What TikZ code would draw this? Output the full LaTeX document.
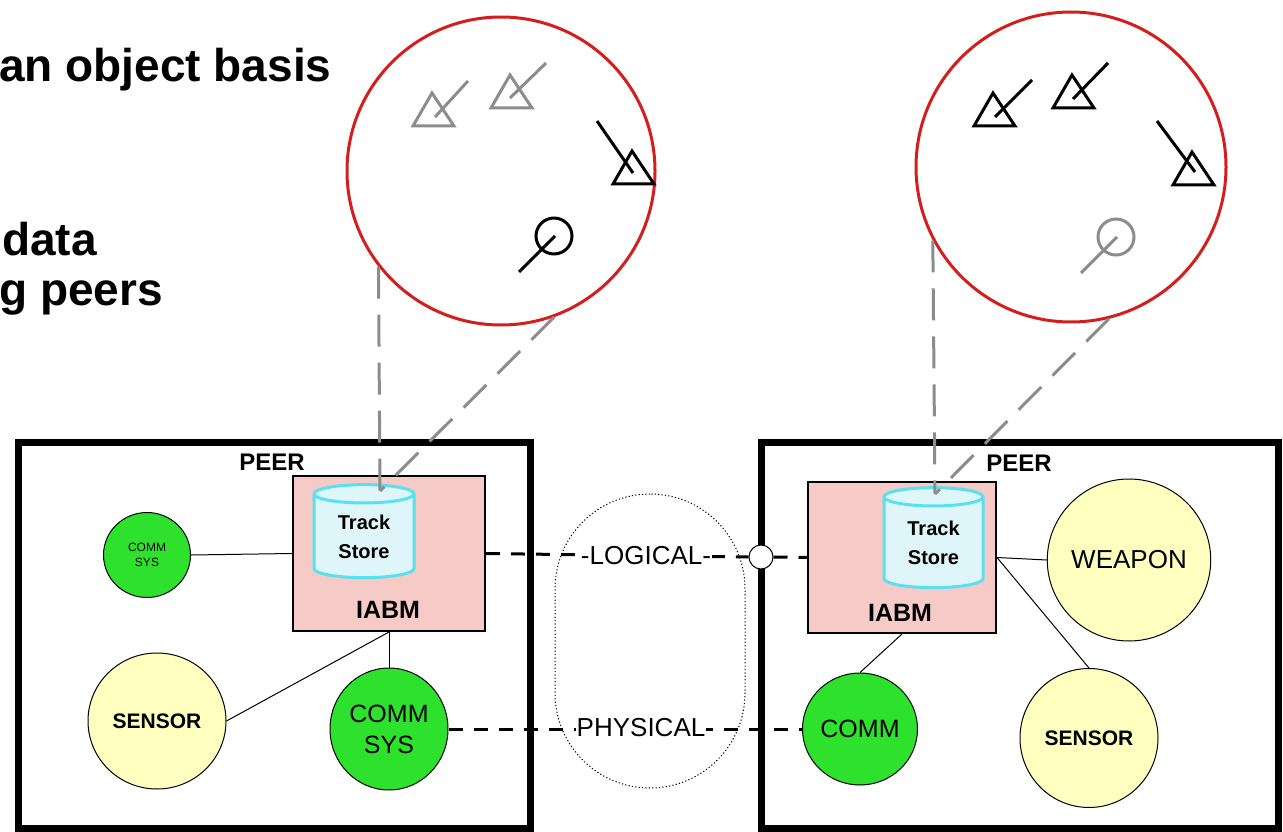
\documentclass[tikz,border=0pt]{standalone}
\usepackage{fontspec}
\setmainfont{Liberation Sans}
\usetikzlibrary{shapes.geometric}

\definecolor{viewred}{RGB}{212,30,30}
\definecolor{trackgray}{RGB}{140,140,140}
\definecolor{iabmpink}{RGB}{246,202,198}
\definecolor{storecyan}{RGB}{90,225,240}
\definecolor{storefill}{RGB}{222,246,250}
\definecolor{commgreen}{RGB}{45,225,45}
\definecolor{unityellow}{RGB}{255,255,192}

\newcommand{\pxfont}[2]{\fontsize{#1}{#2}\selectfont}

\tikzstyle{view}=[circle, draw=viewred, line width=3pt, inner sep=0pt]
\tikzstyle{peerbox}=[draw, line width=7pt, inner sep=0pt]
\tikzstyle{iabm}=[draw, fill=iabmpink, line width=2pt, inner sep=0pt]
\tikzstyle{store}=[cylinder, shape border rotate=90, aspect=0.35, draw=storecyan, fill=storefill, line width=3pt, inner sep=0pt, align=center, font=\pxfont{20}{29}\bfseries]
\tikzstyle{unit}=[ellipse, draw, line width=1pt, inner sep=0pt, align=center]
\tikzstyle{label}=[inner sep=0pt, font=\pxfont{24}{28}\bfseries]
\tikzstyle{edge}=[draw, line width=1pt, -]
\tikzstyle{link}=[draw, line width=3pt, dash pattern=on 14pt off 11pt]
\tikzstyle{sight}=[draw=trackgray, line width=3pt, dash pattern=on 32pt off 16pt]

\begin{document}
\begin{tikzpicture}[x=1pt, y=-1pt]
	\useasboundingbox (0,0) rectangle (1283,832);
	% slide text
	\node[anchor=base west, inner sep=0pt, font=\pxfont{46}{50}\bfseries] (basis) at (-1,82) {an object basis};
	\node[anchor=base west, inner sep=0pt, font=\pxfont{46}{50}\bfseries] (data) at (2,255) {data};
	\node[anchor=base west, inner sep=0pt, font=\pxfont{46}{50}\bfseries] (peers) at (-1,305) {g peers};

	% track pictures
	\node[view, minimum size=308pt] (lview) at (501,171) {};
	\node[view, minimum size=310pt] (rview) at (1071,167) {};
	\foreach \bx/\by/\ax/\ay/\ex/\ey/\c in {433/126/435/117/468/81/trackgray, 511/108/510/98/546/63/trackgray, 633/184/597/121/633/173/black, 994/126/995/117/1032/80/black, 1073/108/1073/99/1108/63/black, 1193/185/1157/121/1195/172/black}
	{
		\draw[\c, line width=3pt] (\bx-20,\by) -- (\bx+21,\by) -- (\bx-1,\by-33) -- cycle;
		\draw[\c, line width=3pt] (\ax,\ay) -- (\ex,\ey);
	}
	\foreach \cx/\cy/\c in {554/236/black, 1116/237/trackgray}
	{
		\draw[\c, line width=3pt] (\cx,\cy) circle[radius=18pt];
		\draw[\c, line width=3pt] (\cx-35,\cy+36) -- (\cx+1,\cy);
	}

	% peers
	\node[peerbox, minimum width=512pt, minimum height=386pt] (lpeer) at (274,635) {};
	\node[peerbox, minimum width=517pt, minimum height=386pt] (rpeer) at (1019.5,635) {};
	\node[label] (lpeertext) at (272,462) {PEER};
	\node[label] (rpeertext) at (1019,463) {PEER};

	\node[iabm, minimum width=192pt, minimum height=155pt] (liabm) at (389,553.5) {};
	\node[iabm, minimum width=188pt, minimum height=151pt] (riabm) at (902,557.5) {};
	\node[label, font=\pxfont{25}{29}\bfseries] (liabmtext) at (388,610) {IABM};
	\node[label, font=\pxfont{25}{29}\bfseries] (riabmtext) at (900,613) {IABM};

	\node[store, minimum width=100pt, minimum height=93pt] (lstore) at (364,536.5) {Track\\Store};
	\node[store, minimum width=99pt, minimum height=100pt] (rstore) at (933.5,543) {Track\\Store};

	\node[unit, fill=commgreen, minimum width=87pt, minimum height=85pt, font=\pxfont{12}{15}] (lradio) at (147,555) {COMM\\SYS};
	\node[unit, fill=unityellow, minimum width=138pt, minimum height=136pt, font=\pxfont{21}{25}\bfseries] (lsensor) at (157,721) {SENSOR};
	\node[unit, fill=commgreen, minimum width=118pt, minimum height=122pt, font=\pxfont{25}{31}] (lcomm) at (389,729) {COMM\\SYS};
	\node[unit, fill=commgreen, minimum width=115pt, minimum height=112pt, font=\pxfont{25}{30}] (rcomm) at (860,729) {COMM};
	\node[unit, fill=unityellow, minimum width=160pt, minimum height=162pt, font=\pxfont{26}{30}] (weapon) at (1129,560) {WEAPON};
	\node[unit, fill=unityellow, minimum width=138pt, minimum height=139pt, font=\pxfont{21}{25}\bfseries] (rsensor) at (1089,738) {SENSOR};

	\foreach \source/\dest in {lradio.east/liabm.west, liabm.south/lsensor.east, liabm.south/lcomm.north, riabm.east/weapon.west, riabm.east/rsensor.north, riabm.south/rcomm.north}
		\path[edge] (\source) -- (\dest);

	% network between the peers
	\node[draw, line width=1pt, dash pattern=on 1.2pt off 2.2pt, rounded corners=95pt, minimum width=190pt, minimum height=294pt] (net) at (650,641) {};
	\node[circle, draw, fill=white, line width=1pt, minimum size=24pt, inner sep=0pt] (gate) at (761,557) {};
	\path[link] (liabm.east) -- (gate.west);
	\path[link] (gate.east) -- (riabm.west);
	\path[link] (lcomm.east) -- (rcomm.west);
	\node[fill=white, inner sep=1pt, font=\pxfont{26}{30}] (logical) at (646,556) {-LOGICAL-};
	\node[fill=white, inner sep=1pt, font=\pxfont{26}{30}] (physical) at (641,728) {PHYSICAL};

	% lines of sight into the track stores
	\coordinate (lhit) at (380,491);
	\coordinate (rhit) at (935,494);
	\foreach \source/\dest in {lview.218/lhit, lview.290/lhit, rview.208/rhit, rview.284/rhit}
		\path[sight] (\source) -- (\dest);
\end{tikzpicture}
\end{document}
